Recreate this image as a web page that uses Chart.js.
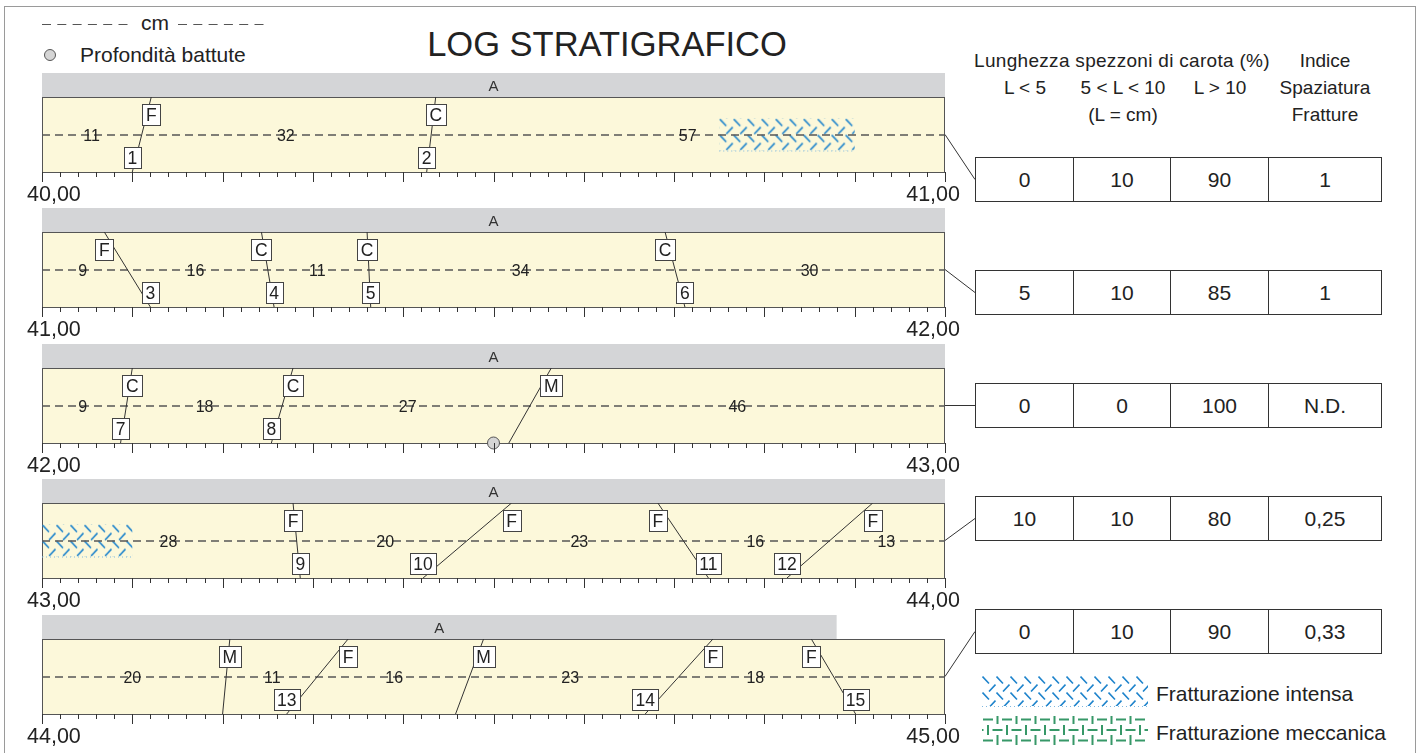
<!DOCTYPE html>
<html>
<head>
<meta charset="utf-8">
<script src="https://cdn.jsdelivr.net/npm/chart.js@4.4.1/dist/chart.umd.min.js"></script>
<style>
  body { margin: 0; background: #fff; font-family: "Liberation Sans", Arial, sans-serif; color: #222; }
  #page { position: relative; width: 1423px; height: 753px; overflow: hidden; }
  .frame { position: absolute; left: 4px; top: 6px; width: 1410px; height: 800px; border: 1px solid #9a9a9a; }
  .txt { position: absolute; white-space: nowrap; line-height: 1; }
  canvas { position: absolute; }
  table.vals { position: absolute; left: 975px; border-collapse: collapse; }
  table.vals td { border: 1px solid #333; height: 43px; padding: 0; text-align: center; font-size: 21px; color: #222; }
</style>
</head>
<body>
<div id="page">
  <div class="frame"></div>
</div>
<script>
// depth at the top of each log row (m) and the depth labels under the rows
const rowDepths = [40, 41, 42, 43, 44];
const depthLabels = ['40,00', '41,00', '42,00', '43,00', '44,00', '45,00'];

// lithological unit band over each row (cm from the row top)
const unitNames = ['A', 'A', 'A', 'A', 'A'];
const unitEnds = [100, 100, 100, 100, 88];

// core piece lengths (cm), written on the dashed line
const pieceLengths = [
  [11, 32, 57],
  [9, 16, 11, 34, 30],
  [9, 18, 27, 46],
  [28, 20, 23, 16, 13],
  [20, 11, 16, 23, 18]
];

// fractures: type, number, position at top and bottom edge of the core (cm)
const fractureTypes = [
  ['F', 'C'],
  ['F', 'C', 'C', 'C'],
  ['C', 'C', 'M'],
  ['F', 'F', 'F', 'F'],
  ['M', 'F', 'M', 'F', 'F']
];
const fractureNumbers = [
  [1, 2],
  [3, 4, 5, 6],
  [7, 8, null],
  [9, 10, 11, 12],
  [null, 13, null, 14, 15]
];
const fractureTops = [
  [12.1, 43.6],
  [6.9, 24.3, 36.0, 69.0],
  [10.0, 27.8, 56.4],
  [27.8, 52.0, 68.2, 92.0],
  [20.8, 33.9, 48.9, 74.3, 85.2]
];
const fractureBottoms = [
  [10.0, 42.6],
  [12.0, 25.7, 36.4, 71.2],
  [8.7, 25.4, 51.7],
  [28.6, 42.2, 73.8, 82.5],
  [20.0, 27.1, 45.8, 66.8, 90.1]
];

// intense fracturing intervals (cm)
const intenseFrom = [[75], [], [], [0], []];
const intenseTo = [[90], [], [], [10], []];

// "profondità battute" (cm)
const hitDepths = [[], [], [50], [], []];

// table on the right
const tableHead1 = ['Lunghezza spezzoni di carota (%)', 'Indice'];
const tableHead2 = ['L < 5', '5 < L < 10', 'L > 10', 'Spaziatura'];
const tableHead3 = ['(L = cm)', 'Fratture'];
const lessThan5 = [0, 5, 0, 10, 0];
const from5to10 = [10, 10, 0, 10, 10];
const over10 = [90, 85, 100, 80, 90];
const spacingIndex = ['1', '1', 'N.D.', '0,25', '0,33'];

// layout
const FONT = '"Liberation Sans", Arial, sans-serif';
const plotTops = [97, 232, 368, 503, 639];
const tableTops = [157, 270, 383, 496, 609];
const colWidths = [98, 97, 98, 113];
const colCenters = [1025, 1123, 1220, 1325];
const page = document.getElementById('page');

function addText(text, x, baseline, size, align, extra) {
  const d = document.createElement('div');
  d.className = 'txt';
  d.textContent = text;
  d.style.fontSize = size + 'px';
  d.style.top = (baseline - 0.8465 * size) + 'px';
  d.style.left = x + 'px';
  if (align === 'center') d.style.transform = 'translateX(-50%)';
  if (extra) Object.assign(d.style, extra);
  page.appendChild(d);
}

// titles and headers
addText('LOG STRATIGRAFICO', 607, 56, 34.5, 'center');
addText('cm', 155, 30, 21, 'center');
addText('Profondità battute', 80, 62, 21, 'left');
addText(tableHead1[0], 1122, 67, 19, 'center', { letterSpacing: '0.3px' });
addText(tableHead1[1], colCenters[3], 67, 19, 'center');
tableHead2.forEach((t, i) => addText(t, colCenters[i], 94, 19, 'center'));
addText(tableHead3[0], colCenters[1], 121, 19, 'center');
addText(tableHead3[1], colCenters[3], 121, 19, 'center');
addText('Fratturazione intensa', 1156, 701, 21, 'left');
addText('Fratturazione meccanica', 1156, 740, 21, 'left');

// value table rows
rowDepths.forEach((d, r) => {
  const t = document.createElement('table');
  t.className = 'vals';
  t.style.top = tableTops[r] + 'px';
  const tr = document.createElement('tr');
  [lessThan5[r], from5to10[r], over10[r], spacingIndex[r]].forEach((v, i) => {
    const td = document.createElement('td');
    td.style.width = (colWidths[i] - 1) + 'px';
    td.textContent = v;
    tr.appendChild(td);
  });
  t.appendChild(tr);
  page.appendChild(t);
});

function intensePattern(ctx, x0, y0) {
  const c = document.createElement('canvas');
  c.width = 14; c.height = 16;
  const g = c.getContext('2d');
  g.strokeStyle = '#1f84cc';
  g.lineWidth = 1.6;
  g.beginPath();
  g.moveTo(0.5, 0.5); g.lineTo(7, 7.5);
  g.moveTo(7, 15.5); g.lineTo(13.5, 8.5);
  g.stroke();
  const p = ctx.createPattern(c, 'repeat');
  p.setTransform(new DOMMatrix().translate(x0, y0));
  return p;
}

function mechPattern(ctx, x0, y0) {
  const c = document.createElement('canvas');
  c.width = 19; c.height = 21;
  const g = c.getContext('2d');
  g.fillStyle = '#379868';
  // row a
  g.fillRect(1, 2.5, 10, 2);
  g.fillRect(14.5, 0, 2, 8);
  g.fillRect(14.5, 19, 2, 2);
  // row b
  g.fillRect(10.5, 13, 8.5, 2);
  g.fillRect(0, 13, 1.5, 2);
  g.fillRect(5, 9, 2, 10);
  const p = ctx.createPattern(c, 'repeat');
  p.setTransform(new DOMMatrix().translate(x0, y0));
  return p;
}

function fillIntense(ctx, x1, y1, w, h) {
  ctx.save();
  ctx.fillStyle = intensePattern(ctx, x1, y1);
  ctx.fillRect(x1, y1, w, h);
  ctx.strokeStyle = '#7fb8e0';
  ctx.lineWidth = 1;
  ctx.setLineDash([1, 3]);
  ctx.beginPath();
  ctx.moveTo(x1, y1 + h + 0.5);
  ctx.lineTo(x1 + w, y1 + h + 0.5);
  ctx.stroke();
  ctx.restore();
}

function drawBox(ctx, text, cx, cy) {
  ctx.font = '17.5px ' + FONT;
  const w = Math.round(ctx.measureText(text).width + 7);
  const h = 21;
  const left = Math.round(cx - w / 2) + 0.5;
  const top = Math.round(cy - h / 2) + 0.5;
  ctx.fillStyle = '#fff';
  ctx.fillRect(left, top, w, h);
  ctx.strokeStyle = '#444';
  ctx.lineWidth = 1;
  ctx.strokeRect(left, top, w, h);
  ctx.fillStyle = '#222';
  ctx.textAlign = 'center';
  ctx.textBaseline = 'alphabetic';
  ctx.fillText(text, cx, cy + 6.5);
}

function logPlugin(r) {
  const depth = rowDepths[r];
  const canvasTop = plotTops[r] - 24;
  return {
    id: 'log' + r,
    beforeDatasetsDraw(chart) {
      const { ctx, chartArea: a, scales: { x } } = chart;
      const mid = (a.top + a.bottom) / 2;
      ctx.save();
      // unit band
      const u1 = x.getPixelForValue(depth);
      const u2 = x.getPixelForValue(depth + unitEnds[r] / 100);
      ctx.fillStyle = '#d4d5d7';
      ctx.fillRect(u1, 0, u2 - u1, a.top);
      ctx.fillStyle = '#333';
      ctx.font = '15px ' + FONT;
      ctx.textAlign = 'center';
      ctx.fillText(unitNames[r], (u1 + u2) / 2, a.top / 2 + 5.5);
      // core background
      ctx.fillStyle = '#fcf8da';
      ctx.fillRect(a.left, a.top, a.width, a.height);
      ctx.strokeStyle = '#555';
      ctx.lineWidth = 1;
      ctx.strokeRect(a.left + 0.5, a.top + 0.5, a.width - 1, a.height);
      // intense fracturing
      intenseFrom[r].forEach((f, k) => {
        const p1 = x.getPixelForValue(depth + f / 100);
        const p2 = x.getPixelForValue(depth + intenseTo[r][k] / 100);
        fillIntense(ctx, p1, mid - 16, p2 - p1, 32);
      });
      // dashed line
      ctx.strokeStyle = '#555';
      ctx.lineWidth = 1.3;
      ctx.setLineDash([8, 5]);
      ctx.beginPath();
      ctx.moveTo(a.left, mid + 0.5);
      ctx.lineTo(a.right, mid + 0.5);
      ctx.stroke();
      ctx.setLineDash([]);
      // piece lengths
      ctx.fillStyle = '#222';
      ctx.font = '16px ' + FONT;
      let acc = 0;
      pieceLengths[r].forEach(len => {
        ctx.fillText(String(len), x.getPixelForValue(depth + (acc + len / 2) / 100), mid + 6);
        acc += len;
      });
      ctx.restore();
    },
    afterDatasetsDraw(chart) {
      const { ctx, chartArea: a, scales: { x } } = chart;
      ctx.save();
      fractureTypes[r].forEach((t, k) => {
        drawBox(ctx, t, x.getPixelForValue(depth + fractureTops[r][k] / 100), a.top + 17);
        const n = fractureNumbers[r][k];
        if (n !== null) drawBox(ctx, String(n), x.getPixelForValue(depth + fractureBottoms[r][k] / 100), a.bottom - 15);
      });
      ctx.restore();
    },
    afterDraw(chart) {
      const { ctx, chartArea: a, scales: { x } } = chart;
      const mid = (a.top + a.bottom) / 2;
      ctx.save();
      ctx.strokeStyle = '#333';
      ctx.lineWidth = 1;
      ctx.beginPath();
      for (let cm = 0; cm <= 100; cm += 2) {
        const px = Math.round(x.getPixelForValue(depth + cm / 100)) + 0.5;
        ctx.moveTo(px, a.bottom);
        ctx.lineTo(px, a.bottom + (cm % 10 === 0 ? 10 : 5));
      }
      ctx.stroke();
      ctx.fillStyle = '#222';
      ctx.font = '21.5px ' + FONT;
      ctx.textAlign = 'left';
      ctx.fillText(depthLabels[r], x.getPixelForValue(depth) - 15, a.bottom + 29);
      ctx.textAlign = 'right';
      ctx.fillText(depthLabels[r + 1], x.getPixelForValue(depth + 1) + 15, a.bottom + 29);
      // connector to the table
      ctx.beginPath();
      ctx.moveTo(a.right, mid);
      ctx.lineTo(975, tableTops[r] + 22.5 - canvasTop);
      ctx.stroke();
      ctx.restore();
    }
  };
}

rowDepths.forEach((depth, r) => {
  const canvas = document.createElement('canvas');
  canvas.width = 980;
  canvas.height = 136;
  canvas.style.left = '0px';
  canvas.style.top = (plotTops[r] - 24) + 'px';
  page.appendChild(canvas);

  const datasets = fractureTypes[r].map((t, k) => ({
    type: 'line',
    data: [
      { x: depth + fractureTops[r][k] / 100, y: 1 },
      { x: depth + fractureBottoms[r][k] / 100, y: 0 }
    ],
    borderColor: '#333',
    borderWidth: 1,
    pointRadius: 0,
    fill: false
  }));
  datasets.push({
    type: 'scatter',
    data: hitDepths[r].map(cm => ({ x: depth + cm / 100, y: 0 })),
    pointRadius: 6,
    backgroundColor: '#d5d5d5',
    borderColor: '#555',
    borderWidth: 1,
    clip: false
  });

  new Chart(canvas, {
    type: 'line',
    data: { datasets },
    options: {
      responsive: false,
      animation: false,
      events: [],
      layout: { padding: { left: 42, right: 35, top: 24, bottom: 37 } },
      scales: {
        x: { type: 'linear', min: depth, max: depth + 1, display: false },
        y: { min: 0, max: 1, display: false }
      },
      plugins: { legend: { display: false }, tooltip: { enabled: false } }
    },
    plugins: [logPlugin(r)]
  });
});

// top-left legend: dashed "cm" line and hit-depth symbol
const deco = document.createElement('canvas');
deco.width = 300; deco.height = 70;
deco.style.left = '0px'; deco.style.top = '0px';
page.appendChild(deco);
(function () {
  const ctx = deco.getContext('2d');
  ctx.strokeStyle = '#555';
  ctx.lineWidth = 1.2;
  ctx.setLineDash([9, 6.3]);
  ctx.beginPath();
  ctx.moveTo(42, 24.5); ctx.lineTo(129, 24.5);
  ctx.moveTo(178, 24.5); ctx.lineTo(264, 24.5);
  ctx.stroke();
  ctx.setLineDash([]);
  ctx.beginPath();
  ctx.arc(50, 55, 5.5, 0, Math.PI * 2);
  ctx.fillStyle = '#d5d5d5';
  ctx.fill();
  ctx.strokeStyle = '#555';
  ctx.lineWidth = 1;
  ctx.stroke();
})();

// bottom-right legend patterns
const leg = document.createElement('canvas');
leg.width = 180; leg.height = 80;
leg.style.left = '975px'; leg.style.top = '672px';
page.appendChild(leg);
(function () {
  const ctx = leg.getContext('2d');
  fillIntense(ctx, 7, 4, 166, 30);
  ctx.fillStyle = mechPattern(ctx, 7, 44);
  ctx.fillRect(7, 44, 166, 30);
})();
</script>
</body>
</html>
